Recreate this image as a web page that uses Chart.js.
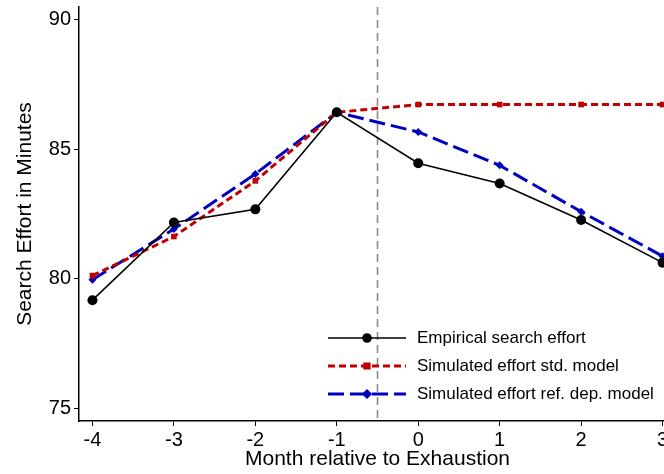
<!DOCTYPE html>
<html>
<head>
<meta charset="utf-8">
<script src="https://cdn.jsdelivr.net/npm/chart.js@4/dist/chart.umd.min.js"></script>
<style>
  html, body { margin: 0; padding: 0; background: #fff; overflow: hidden; }
  #wrap { width: 681px; height: 474px; }
</style>
</head>
<body>
<div id="wrap"><canvas id="effort"></canvas></div>
<script>
// months relative to benefit exhaustion
let months = [-4, -3, -2, -1, 0, 1, 2, 3]
let empirical = [79.17, 82.17, 82.68, 86.43, 84.46, 83.68, 82.27, 80.62]
let stdModel = [80.12, 81.63, 83.78, 86.43, 86.73, 86.73, 86.73, 86.73]
let refDepModel = [79.96, 81.92, 84.05, 86.43, 85.67, 84.38, 82.59, 80.87]
let yTicks = [75, 80, 85, 90]
let exhaustionLine = -0.5

const FONT = "'Liberation Sans', Arial, Helvetica, sans-serif"

function pts(vals) {
  return months.map((m, i) => ({ x: m, y: vals[i] }))
}

// grey dashed line at exhaustion + legend inside the plot
let extras = {
  id: 'extras',
  beforeDatasetsDraw(chart) {
    let ctx = chart.ctx, a = chart.chartArea
    let xp = chart.scales.x.getPixelForValue(exhaustionLine)
    ctx.save()
    ctx.strokeStyle = '#8c8c8c'
    ctx.lineWidth = 1.6
    ctx.setLineDash([8, 5])
    ctx.beginPath()
    ctx.moveTo(xp, a.top)
    ctx.lineTo(xp, a.bottom)
    ctx.stroke()
    ctx.restore()
  },
  afterDraw(chart) {
    let ctx = chart.ctx
    ctx.save()
    chart.data.datasets.forEach((ds, i) => {
      let y = 338 + i * 28
      ctx.strokeStyle = ds.borderColor
      ctx.lineWidth = ds.borderWidth
      ctx.setLineDash(ds.borderDash || [])
      ctx.beginPath()
      ctx.moveTo(328, y)
      ctx.lineTo(406, y)
      ctx.stroke()
      ctx.setLineDash([])
      ctx.fillStyle = ds.borderColor
      Chart.helpers.drawPoint(ctx, {
        pointStyle: ds.pointStyle, radius: ds.pointRadius - 1, borderWidth: 1
      }, 367, y)
      ctx.fillStyle = '#000'
      ctx.font = '17px ' + FONT
      ctx.textBaseline = 'middle'
      ctx.fillText(ds.label, 417, y)
    })
    ctx.restore()
  }
}

let chart1 = document.getElementById('effort')
let effortChart = new Chart(chart1, {
  type: 'line',
  data: {
    datasets: [{
      label: 'Empirical search effort',
      data: pts(empirical),
      borderColor: '#000000',
      backgroundColor: '#000000',
      borderWidth: 1.6,
      pointStyle: 'circle',
      pointRadius: 5,
      pointBorderWidth: 0
    }, {
      label: 'Simulated effort std. model',
      data: pts(stdModel),
      borderColor: '#c00000',
      backgroundColor: '#c00000',
      borderWidth: 3,
      borderDash: [7, 4],
      pointStyle: 'rect',
      pointRadius: 4,
      pointBorderWidth: 0
    }, {
      label: 'Simulated effort ref. dep. model',
      data: pts(refDepModel),
      borderColor: '#0000c0',
      backgroundColor: '#0000c0',
      borderWidth: 3,
      borderDash: [16, 6],
      pointStyle: 'rectRot',
      pointRadius: 4,
      pointBorderWidth: 0
    }]
  },
  options: {
    responsive: true,
    maintainAspectRatio: false,
    animation: false,
    layout: { padding: { top: 5, right: 0, left: 13, bottom: 0 } },
    plugins: { legend: { display: false }, tooltip: { enabled: false } },
    scales: {
      x: {
        type: 'linear',
        min: -4.165,
        max: 3.165,
        afterBuildTicks: s => { s.ticks = months.map(v => ({ value: v })) },
        afterFit: s => { s.height = 53 },
        grid: { drawOnChartArea: false, drawTicks: true, tickLength: 5, color: '#000' },
        border: { color: '#000', width: 1.5 },
        ticks: { color: '#000', font: { family: FONT, size: 20 }, padding: 2, maxRotation: 0 },
        title: { display: true, text: 'Month relative to Exhaustion', color: '#000',
                 font: { family: FONT, size: 21 }, padding: { top: 0, bottom: 2 } }
      },
      y: {
        min: 74.5,
        max: 90.5,
        afterBuildTicks: s => { s.ticks = yTicks.map(v => ({ value: v })) },
        afterFit: s => { s.width = 66 },
        grid: { drawOnChartArea: false, drawTicks: true, tickLength: 5, color: '#000' },
        border: { color: '#000', width: 1.5 },
        ticks: { color: '#000', font: { family: FONT, size: 20, lineHeight: 0.4 }, padding: 3 },
        title: { display: true, text: 'Search Effort in Minutes', color: '#000',
                 font: { family: FONT, size: 21 }, padding: { top: 0, bottom: 2 } }
      }
    }
  },
  plugins: [extras]
})
</script>
</body>
</html>
